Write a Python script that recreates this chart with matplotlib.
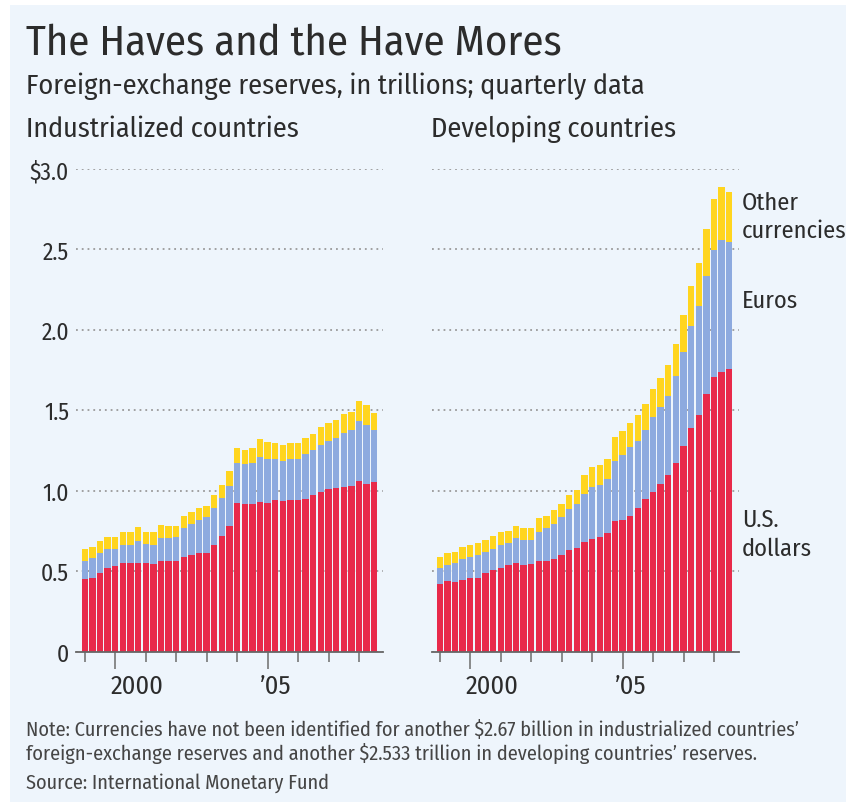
import matplotlib
matplotlib.use("Agg")
import matplotlib.pyplot as plt
from matplotlib.patches import Rectangle
import numpy as np

FONT = ['Fira Sans Condensed', 'DejaVu Sans']
plt.rcParams['font.family'] = FONT

# quarterly data, 1999 Q1 - 2008 Q3, trillions of dollars
quarters = [f"{y}Q{q}" for y in range(1999, 2009) for q in range(1, 5)][:39]

ind_usd = [0.45, 0.46, 0.49, 0.52, 0.53, 0.55, 0.55, 0.55, 0.55, 0.545,
           0.565, 0.56, 0.56, 0.59, 0.60, 0.61, 0.615, 0.665, 0.72, 0.78,
           0.925, 0.915, 0.915, 0.93, 0.925, 0.945, 0.935, 0.94, 0.945, 0.95,
           0.975, 0.99, 1.01, 1.015, 1.02, 1.03, 1.06, 1.04, 1.055]
ind_eur = [0.11, 0.12, 0.12, 0.115, 0.11, 0.115, 0.115, 0.14, 0.12, 0.12,
           0.14, 0.145, 0.15, 0.18, 0.19, 0.205, 0.22, 0.23, 0.235, 0.25,
           0.25, 0.25, 0.255, 0.28, 0.27, 0.25, 0.25, 0.255, 0.25, 0.28,
           0.275, 0.295, 0.30, 0.315, 0.34, 0.345, 0.375, 0.37, 0.32]
ind_oth = [0.075, 0.07, 0.075, 0.08, 0.075, 0.08, 0.08, 0.085, 0.075, 0.075,
           0.08, 0.075, 0.07, 0.075, 0.08, 0.08, 0.07, 0.08, 0.08, 0.09,
           0.09, 0.085, 0.095, 0.11, 0.11, 0.10, 0.10, 0.10, 0.10, 0.095,
           0.10, 0.11, 0.11, 0.11, 0.115, 0.115, 0.12, 0.12, 0.11]

dev_usd = [0.42, 0.44, 0.43, 0.445, 0.455, 0.46, 0.49, 0.505, 0.52, 0.535,
           0.55, 0.54, 0.545, 0.565, 0.565, 0.575, 0.60, 0.63, 0.645, 0.68,
           0.70, 0.715, 0.735, 0.81, 0.82, 0.845, 0.89, 0.95, 0.99, 1.04,
           1.10, 1.17, 1.28, 1.39, 1.47, 1.60, 1.705, 1.735, 1.755]
dev_eur = [0.10, 0.10, 0.12, 0.13, 0.13, 0.14, 0.13, 0.135, 0.145, 0.14,
           0.155, 0.155, 0.15, 0.18, 0.20, 0.22, 0.235, 0.255, 0.275, 0.30,
           0.32, 0.32, 0.335, 0.375, 0.40, 0.425, 0.42, 0.43, 0.47, 0.48,
           0.49, 0.54, 0.58, 0.635, 0.68, 0.735, 0.79, 0.825, 0.79]
dev_oth = [0.07, 0.07, 0.07, 0.075, 0.08, 0.075, 0.075, 0.08, 0.075, 0.075,
           0.075, 0.07, 0.075, 0.085, 0.08, 0.085, 0.085, 0.085, 0.085, 0.115,
           0.125, 0.125, 0.125, 0.15, 0.15, 0.15, 0.16, 0.16, 0.17, 0.18,
           0.19, 0.20, 0.23, 0.245, 0.265, 0.29, 0.32, 0.33, 0.315]

y_ticks = [0, 0.5, 1.0, 1.5, 2.0, 2.5, 3.0]
y_labels = ['0', '0.5', '1.0', '1.5', '2.0', '2.5', '$3.0']
year_ticks = ['1999Q1', '2000Q1', '2001Q1', '2002Q1', '2003Q1', '2004Q1',
              '2005Q1', '2006Q1', '2007Q1', '2008Q1']
long_ticks = ['2000Q1', '2005Q1']
year_labels = ['2000', '\u201905']
year_label_pos = [6.9, 25.0]

title = 'The Haves and the Have Mores'
subtitle = 'Foreign-exchange reserves, in trillions; quarterly data'
panel_titles = ['Industrialized countries', 'Developing countries']
legend_lines = [('Other', 203), ('currencies', 231), ('Euros', 301),
                ('U.S.', 520), ('dollars', 549)]
note1 = "Note: Currencies have not been identified for another $2.67 billion in industrialized countries\u2019"
note2 = "foreign-exchange reserves and another $2.533 trillion in developing countries\u2019 reserves."
source = 'Source: International Monetary Fund'

RED = '#E8294A'
BLUE = '#8DAADF'
YELLOW = '#FFD51F'
BG = '#EEF5FC'
TXT = '#2C2C2C'
NOTE = '#454545'
GRID = '#9A9A9A'

W, H = 846, 803
fig = plt.figure(figsize=(W / 100, H / 100), dpi=100)
fig.patch.set_facecolor('white')
fig.add_artist(Rectangle((10 / W, 0), 1 - 10 / W, (H - 6) / H,
                         transform=fig.transFigure, facecolor=BG,
                         edgecolor='none', zorder=-10))
renderer = fig.canvas.get_renderer()


def px(x, y):
    return x / W, 1 - y / H


def fit_text(x, y, s, width_px, color=TXT, **kw):
    t = fig.text(*px(x, y), s, fontsize=10, color=color, va='center', ha='left', **kw)
    w = t.get_window_extent(renderer).width
    t.set_fontsize(10 * width_px / w)
    return t


def panel(left_px, right_px, bar0_px, usd, eur, oth, show_y):
    bottom = (H - 652.5) / H
    height = (652.5 - 170) / H
    ax = fig.add_axes([left_px / W, bottom, (right_px - left_px) / W, height])
    ax.set_facecolor('none')
    unit = 297 / 39
    x0 = -0.5 - (bar0_px - left_px) / unit
    ax.set_xlim(x0, x0 + (right_px - left_px) / unit)
    ax.set_ylim(0, 3.0)
    x = np.arange(len(quarters))
    usd = np.array(usd); eur = np.array(eur); oth = np.array(oth)
    ax.bar(x, usd, width=0.84, color=RED, linewidth=0, zorder=2)
    ax.bar(x, eur, bottom=usd, width=0.84, color=BLUE, linewidth=0, zorder=2)
    ax.bar(x, oth, bottom=usd + eur, width=0.84, color=YELLOW, linewidth=0, zorder=2)
    for s in ['left', 'right', 'top']:
        ax.spines[s].set_visible(False)
    ax.spines['bottom'].set_color('#666666')
    ax.spines['bottom'].set_linewidth(1.3)
    ax.spines['bottom'].set_zorder(3)
    ax.set_yticks(y_ticks)
    if show_y:
        ax.set_yticklabels(y_labels, fontsize=17, color=TXT)
    else:
        ax.set_yticklabels([])
    ax.tick_params(axis='y', length=0, pad=5)
    ax.yaxis.grid(True, color=GRID, linestyle=(0, (1, 2.2)), linewidth=1.3, zorder=0)
    ax.set_axisbelow(True)
    short = [quarters.index(q) for q in year_ticks if q not in long_ticks]
    longs = [quarters.index(q) for q in long_ticks]
    ax.set_xticks(short)
    ax.set_xticklabels([])
    ax.set_xticks(longs, minor=True)
    ax.tick_params(axis='x', which='major', length=7, width=1.2, color='#777777')
    ax.tick_params(axis='x', which='minor', length=12, width=1.2, color='#777777')
    for lab, pos in zip(year_labels, year_label_pos):
        ax.text(pos, -0.215, lab, ha='center', va='center', fontsize=19,
                color=TXT)
    return ax


panel(76, 383, 81, ind_usd, ind_eur, ind_oth, True)
panel(432, 739, 436, dev_usd, dev_eur, dev_oth, False)

fit_text(26, 43, title, 535)
fit_text(26, 86, subtitle, 622)
fit_text(26, 129, panel_titles[0], 274)
fit_text(431, 129, panel_titles[1], 246)

for s, y in legend_lines:
    fig.text(*px(742, y), s, fontsize=17.5, color=TXT, va='center')

fit_text(26, 730, note1, 773, color=NOTE)
fit_text(26, 753, note2, 732, color=NOTE)
fit_text(26, 783, source, 304, color=NOTE)

fig.savefig('out.png', dpi=100, facecolor=fig.get_facecolor())
